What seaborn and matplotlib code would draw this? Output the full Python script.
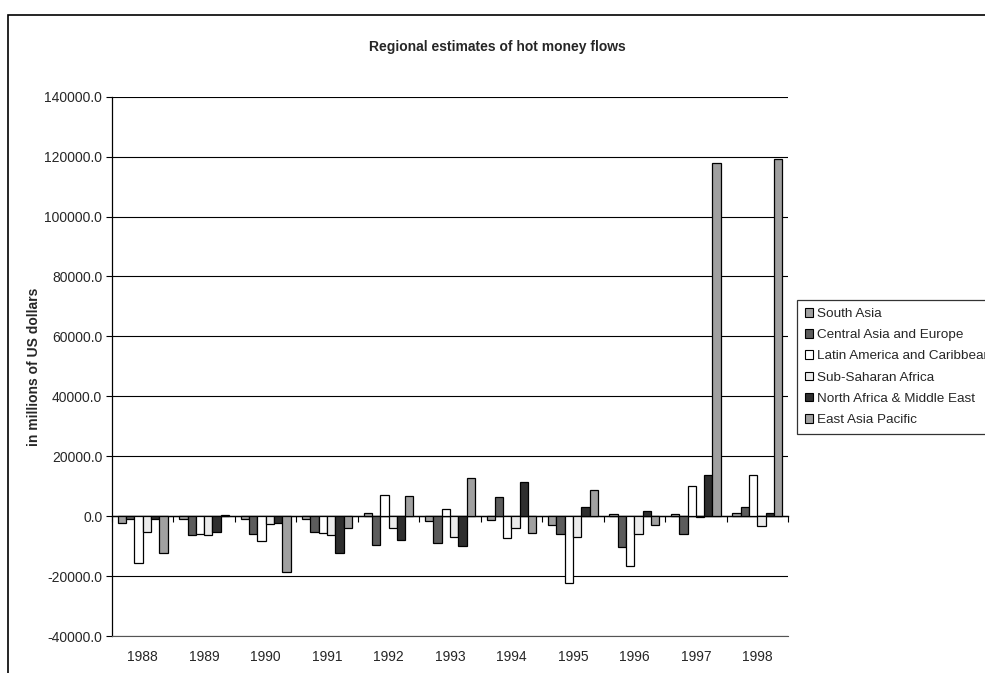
import matplotlib
matplotlib.use("Agg")
import matplotlib.pyplot as plt
import matplotlib.patches as mpatches
from matplotlib.ticker import FuncFormatter
import seaborn as sns
import pandas as pd
import numpy as np

years = ["1988", "1989", "1990", "1991", "1992", "1993", "1994", "1995", "1996", "1997", "1998"]
regions = ["South Asia", "Central Asia and Europe", "Latin America and Caribbean",
           "Sub-Saharan Africa", "North Africa & Middle East", "East Asia Pacific"]
south_asia = [-2200, -1100, -1100, -1100, 900, -1700, -1300, -3000, 800, 800, 900]
central_asia_europe = [-900, -6300, -6100, -5300, -9700, -8900, 6300, -5800, -10300, -5900, 3200]
latin_america = [-15800, -6000, -8400, -5700, 7200, 2400, -7300, -22300, -16600, 10000, 13900]
sub_saharan = [-5400, -6200, -2700, -6200, -3900, -6800, -3900, -6900, -5800, -200, -3400]
north_africa_me = [-1100, -5400, -2400, -12400, -8100, -9900, 11300, 3000, 1700, 13800, 900]
east_asia_pacific = [-12300, 500, -18600, -3800, 6700, 12700, -5700, 8700, -2900, 117800, 119100]
colors = ["#a0a0a0", "#5c5c5c", "#ffffff", "#ebebeb", "#2e2e2e", "#a0a0a0"]

series = [south_asia, central_asia_europe, latin_america, sub_saharan, north_africa_me, east_asia_pacific]
rows = []
for reg, vals in zip(regions, series):
    for y, v in zip(years, vals):
        rows.append({"Year": y, "Region": reg, "Value": v})
df = pd.DataFrame(rows)

sns.set_style("white")
plt.rcParams["font.family"] = ["Liberation Sans", "DejaVu Sans"]

fs = 10
fig = plt.figure(figsize=(9.85, 6.73), dpi=100)
ax = fig.add_axes([112/985, (673-636)/673, (788-112)/985, (636-96.7)/673])

sns.barplot(data=df, x="Year", y="Value", hue="Region", hue_order=regions,
            order=years, palette=colors, width=0.81, edgecolor="black",
            linewidth=0.9, ax=ax, legend=False, saturation=1)

ax.set_ylim(-40000, 140000)
ax.set_xlim(-0.5, len(years) - 0.5)
ax.set_yticks(np.arange(-40000, 140001, 20000))
ax.yaxis.set_major_formatter(FuncFormatter(lambda v, p: f"{v:.1f}"))
ax.grid(axis="y", color="black", linewidth=0.8)
ax.set_axisbelow(True)
for s in ["top", "right"]:
    ax.spines[s].set_visible(False)
ax.spines["bottom"].set_color("#555555")
ax.spines["bottom"].set_linewidth(0.8)
ax.spines["left"].set_color("black")
ax.spines["left"].set_linewidth(0.9)
ax.tick_params(axis="y", direction="out", length=4, width=0.8, color="black",
               labelsize=fs, pad=3, left=True)
ax.tick_params(axis="x", length=0, labelsize=fs, pad=10)
ax.set_xlabel("")
ax.set_ylabel("in millions of US dollars", fontsize=fs, fontweight="bold", labelpad=2)

# category axis crossing at zero
sec = ax.secondary_xaxis(40000/180000)
sec.set_xticks(np.arange(-0.5, len(years)), labels=[])
sec.tick_params(direction="out", length=4, width=0.8, color="black")
sec.spines["bottom"].set_color("black")
sec.spines["bottom"].set_linewidth(1.0)

handles = [mpatches.Patch(facecolor=c, edgecolor="black", linewidth=0.8, label=r)
           for c, r in zip(colors, regions)]
leg = fig.legend(handles=handles, loc="upper left", bbox_to_anchor=(797/985, (673-300)/673),
                 fontsize=9.7, frameon=True, fancybox=False, handlelength=0.6,
                 handleheight=0.6, handletextpad=0.25, labelspacing=0.68,
                 borderpad=0.6, borderaxespad=0, edgecolor="black")
leg.get_frame().set_linewidth(0.9)

fig.text(497/985, (673-47)/673, "Regional estimates of hot money flows", ha="center",
         va="center", fontsize=fs, fontweight="bold")

fig.patches.append(mpatches.Rectangle((8/985, -0.2), 1.2, (673-15)/673 + 0.2,
                                      transform=fig.transFigure, fill=False,
                                      edgecolor="black", linewidth=1.2, clip_on=False))

fig.savefig("out.png", dpi=100)
